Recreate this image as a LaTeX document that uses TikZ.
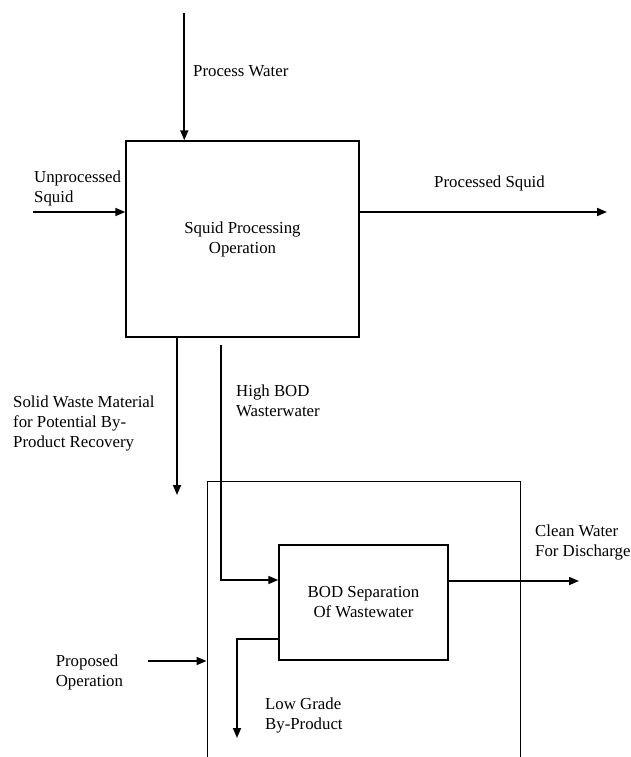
\documentclass[tikz,border=0pt]{standalone}
\usepackage{fontspec}
\setmainfont{Liberation Serif}
\usetikzlibrary{arrows.meta}
\tikzset{
  procbox/.style={draw, line width=1.4pt, rectangle, inner sep=0pt, align=center},
  outerbox/.style={draw, line width=1pt, rectangle, inner sep=0pt},
  flow/.style={line width=1.7pt, -{Triangle[length=10pt,width=8pt]}},
  lbl/.style={inner sep=0pt, align=left, anchor=west},
}
\begin{document}
\begin{tikzpicture}[x=1pt,y=-1pt,font=\fontsize{16.8}{20}\selectfont]
\useasboundingbox (0,0) rectangle (631,757);
% boxes
\node[procbox, minimum width=233pt, minimum height=196pt] (sq) at (242.5,239) {Squid Processing\\Operation};
\node[outerbox, minimum width=313pt, minimum height=319pt] (outer) at (363.5,640.5) {};
\node[procbox, fill=white, minimum width=169pt, minimum height=115pt] (bod) at (363.5,602.5) {BOD Separation\\Of Wastewater};
% free ends
\coordinate (pwin) at (184.3,13);
\coordinate (usin) at (33,212);
\coordinate (psout) at (607,212);
\coordinate (swout) at (177,495);
\coordinate (hb) at (221,345);
\coordinate (hbc) at (221,580);
\coordinate (cw) at (579,581);
\coordinate (lgc) at (237,639);
\coordinate (lgout) at (237,738);
\coordinate (po) at (148,661);
% connectors
\draw[flow] (pwin) -- (pwin |- sq.north);
\draw[flow] (usin) -- (usin -| sq.west);
\draw[flow] (sq.east |- psout) -- (psout);
\draw[flow] (swout |- sq.south) -- (swout);
\draw[flow] (hb) -- (hbc) -- (hbc -| bod.west);
\draw[flow] (bod.east |- cw) -- (cw);
\draw[flow] (lgc -| bod.west) -- (lgc) -- (lgout);
\draw[flow] (po) -- (po -| outer.west);
% labels
\node[lbl] (lpw) at (193,71) {Process Water};
\node[lbl] (lus) at (34,188) {Unprocessed\\Squid};
\node[inner sep=0pt] (lps) at (489.5,183) {Processed Squid};
\node[lbl] (lsw) at (13,423) {Solid Waste Material\\for Potential By-\\Product Recovery};
\node[lbl] (lhb) at (236,400.5) {High BOD\\Wasterwater};
\node[lbl] (lcw) at (535,542) {Clean Water\\For Discharge};
\node[lbl] (llg) at (265,715) {Low Grade\\By-Product};
\node[lbl] (lpo) at (55.6,672) {Proposed\\Operation};
\end{tikzpicture}
\end{document}
